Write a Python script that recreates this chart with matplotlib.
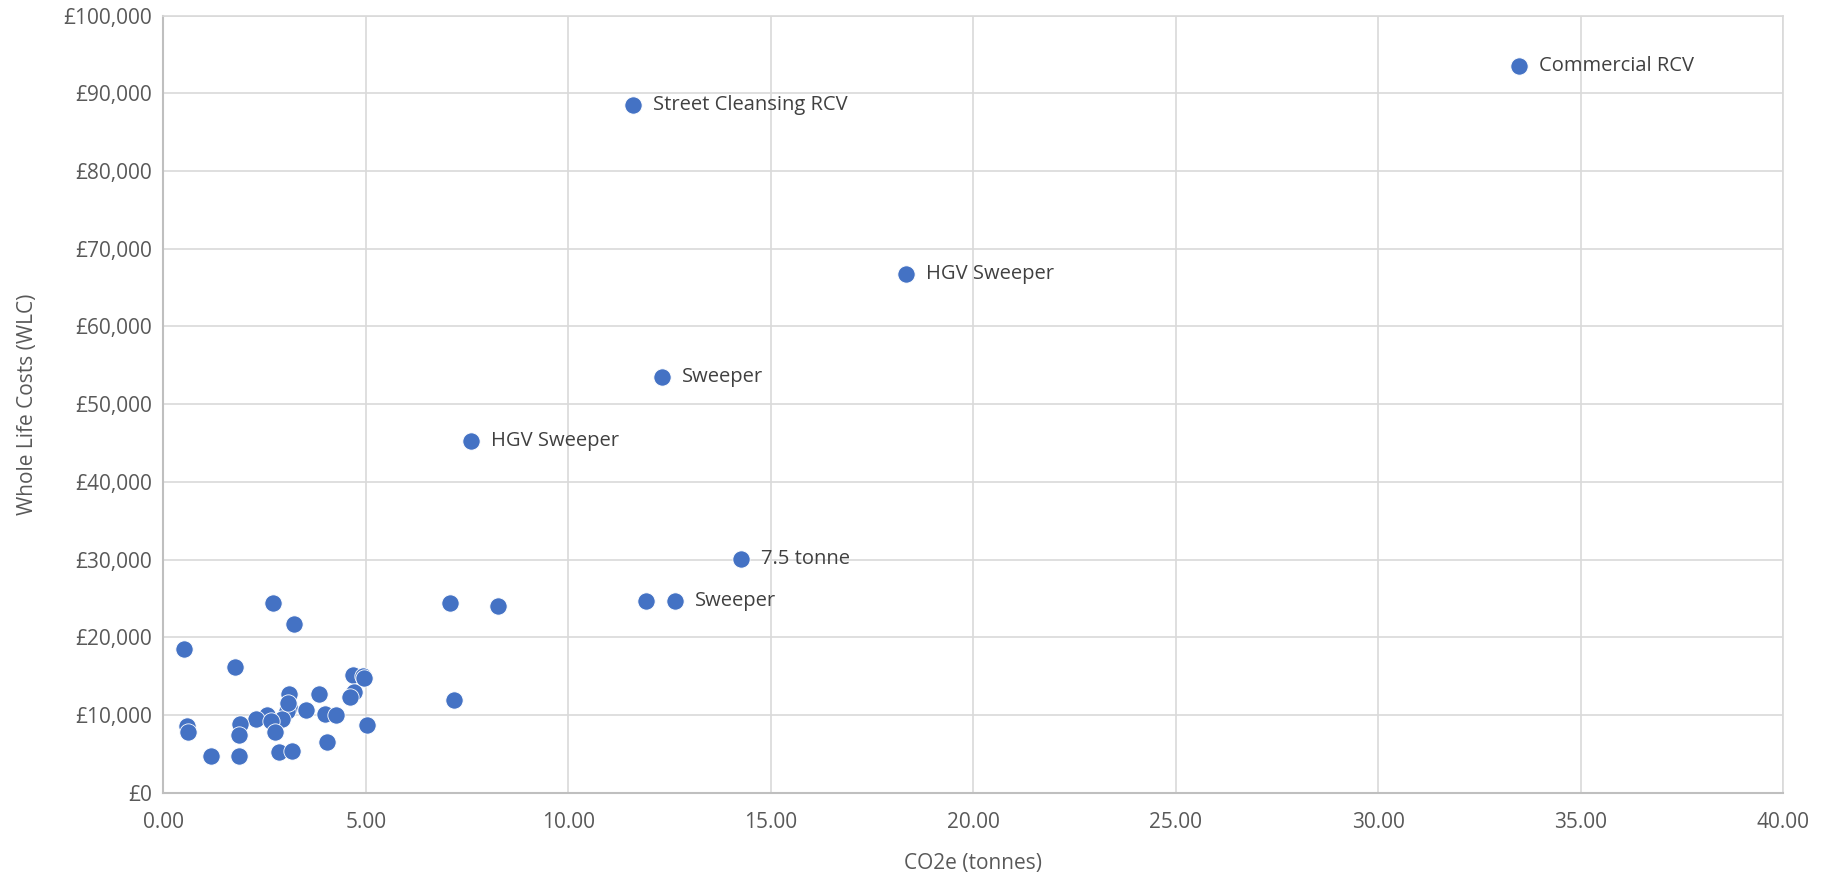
import matplotlib.pyplot as plt
from matplotlib.ticker import FuncFormatter, MultipleLocator

# CO2e (tonnes) and whole life cost (GBP) per vehicle
co2 = [33.48, 11.59, 18.33, 12.32, 7.59, 14.26, 11.92, 12.63,
       2.71, 3.23, 0.50, 1.78, 7.08, 8.27, 7.18,
       4.69, 4.94, 4.71, 4.61, 3.11, 3.85, 3.11, 3.06, 3.52,
       2.55, 2.30, 2.92, 2.67, 2.77, 3.99, 4.26, 5.03, 4.05,
       2.86, 3.17, 0.59, 0.61, 1.90, 1.88, 1.17, 1.86, 4.96, 3.08]
wlc = [93500, 88500, 66700, 53500, 45300, 30100, 24700, 24700,
       24400, 21700, 18500, 16200, 24400, 24000, 12000,
       15200, 15000, 13000, 12300, 12700, 12700, 11100, 10500, 10700,
       10000, 9500, 9500, 9200, 7800, 10100, 10000, 8700, 6500,
       5300, 5400, 8600, 7900, 8900, 7400, 4700, 4700, 14800, 11600]
labels = {0: 'Commercial RCV', 1: 'Street Cleansing RCV', 2: 'HGV Sweeper',
          3: 'Sweeper', 4: 'HGV Sweeper', 5: '7.5 tonne', 7: 'Sweeper'}

plt.rcParams['font.family'] = ['Open Sans', 'DejaVu Sans']
text_col = '#595959'

fig = plt.figure(figsize=(18.31, 8.81), dpi=100)
ax = fig.add_axes([0.0892, 0.0999, 0.8846, 0.8825])

ax.scatter(co2, wlc, s=155, color='#4472C4', edgecolors='white', linewidths=0.6, zorder=3)
for i, txt in labels.items():
    ax.annotate(txt, (co2[i], wlc[i]), xytext=(20, 0), textcoords='offset pixels',
                ha='left', va='center', fontsize=14.5, color='#404040')

ax.set_xlim(0, 40)
ax.set_ylim(0, 100000)
ax.xaxis.set_major_locator(MultipleLocator(5))
ax.yaxis.set_major_locator(MultipleLocator(10000))
ax.xaxis.set_major_formatter(FuncFormatter(lambda v, p: f'{v:.2f}'))
ax.yaxis.set_major_formatter(FuncFormatter(lambda v, p: f'£{v:,.0f}'))
ax.grid(True, color='#D9D9D9', linewidth=1.2, zorder=0)
ax.set_axisbelow(True)
for side in ['top', 'right']:
    ax.spines[side].set_color('#D9D9D9')
    ax.spines[side].set_linewidth(1.2)
for side in ['left', 'bottom']:
    ax.spines[side].set_color('#BFBFBF')
    ax.spines[side].set_linewidth(1.5)
ax.tick_params(length=0, labelsize=15, colors=text_col, pad=8)
ax.tick_params(axis='x', pad=14)

ax.set_xlabel('CO2e (tonnes)', fontsize=15, color=text_col, labelpad=14)
ax.set_ylabel('Whole Life Costs (WLC)', fontsize=15, color=text_col, labelpad=18)

fig.savefig('out.png', dpi=100)
